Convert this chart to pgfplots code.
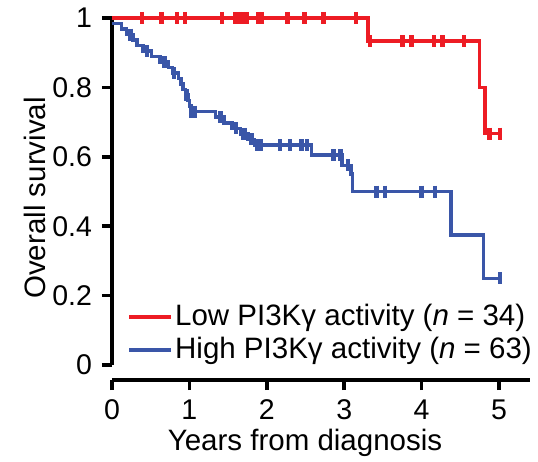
\documentclass[border=0pt]{standalone}
\usepackage{fontspec}
\setmainfont{Liberation Sans}
\usepackage{pgfplots}
\pgfplotsset{compat=1.18}
\definecolor{kmred}{RGB}{237,28,36}
\definecolor{kmblue}{RGB}{58,86,168}
\begin{document}
\fontsize{29.5bp}{34bp}\selectfont
\begin{tikzpicture}
\path[use as bounding box] (-112bp,-82bp) rectangle (426bp,380bp);
\begin{axis}[
  scale only axis, width=418bp, height=362bp,
  xmin=0, xmax=5.4, ymin=-0.0432, ymax=1,
  axis x line*=bottom, axis y line*=left,
  axis line style={line width=3.5bp, -, black},
  y axis line style={shorten <=15bp},
  xtick={0,1,2,3,4,5}, ytick={0,0.2,0.4,0.6,0.8,1},
  tick align=outside, major tick length=10bp,
  tick style={line width=3.5bp, black},
  /pgf/number format/assume math mode=true,
  tick label style={font=\fontsize{28.5bp}{33bp}\selectfont},
  clip=false,
  every axis y label/.style={at={(rel axis cs:0,0.503)}, xshift=-77bp, rotate=90, anchor=center, font=\fontsize{29.5bp}{34bp}\selectfont},
  every axis x label/.style={at={(rel axis cs:0.4617,0)}, yshift=-63bp, anchor=center, font=\fontsize{29.5bp}{34bp}\selectfont},
  xlabel={Years from diagnosis}, ylabel={Overall survival},
  legend style={draw=none, fill=none, at={(axis cs:0.2,0)}, anchor=south west, inner sep=0pt, font=\fontsize{29.5bp}{34bp}\selectfont, row sep=3bp},
  legend cell align=left, reverse legend,
  legend image code/.code={\draw[#1, line width=3.5bp] (0bp,0bp) -- (32bp,0bp); \path (0bp,0bp) -- (42bp,0bp);},
]
% High PI3Kgamma (blue)
\addplot[kmblue, line width=3.5bp, const plot, mark=none] coordinates {
(0,0.984) (0.12,0.968) (0.19,0.952) (0.27,0.937) (0.32,0.921) (0.40,0.905)
(0.51,0.889) (0.62,0.873) (0.73,0.857) (0.78,0.841) (0.86,0.825) (0.89,0.810)
(0.92,0.794) (0.95,0.778) (0.98,0.762) (1.00,0.746) (1.02,0.730)
(1.34,0.714) (1.45,0.698) (1.55,0.682) (1.66,0.666) (1.76,0.650) (1.84,0.634)
(2.58,0.605) (2.97,0.575) (3.09,0.550) (3.11,0.500) (4.38,0.375) (4.80,0.250) (5.04,0.250)
};
\addlegendentry{High PI3Kγ activity (\textit{n} = 63)}
\addplot[kmred, line width=3.5bp, const plot, mark=none] coordinates {
(0,1) (3.31,0.933) (4.75,0.800) (4.82,0.667) (5.04,0.667)
};
\addlegendentry{Low PI3Kγ activity (\textit{n} = 34)}
% censor marks
\addplot[forget plot, only marks, mark=|, mark size=6bp, kmblue, mark options={line width=4.5bp}] coordinates {
(0.24,0.952) (0.45,0.905) (0.68,0.873) (0.80,0.841) (0.96,0.778) (1.03,0.730) (1.07,0.730)
(1.40,0.714) (1.60,0.682) (1.70,0.666) (1.72,0.666) (1.80,0.650) (1.88,0.634) (1.92,0.634)
(2.17,0.634) (2.30,0.634) (2.45,0.634) (2.52,0.634)
(2.86,0.605) (2.95,0.605) (3.05,0.575)
(3.42,0.500) (3.53,0.500) (4.00,0.500) (4.17,0.500) (5.01,0.250)
};
\addplot[forget plot, only marks, mark=|, mark size=6bp, kmred, mark options={line width=4.5bp}] coordinates {
(0.39,1) (0.64,1) (0.84,1) (0.94,1) (1.42,1) (1.59,1) (1.62,1) (1.65,1) (1.69,1)
(1.72,1) (1.74,1) (1.89,1) (1.93,1) (2.27,1) (2.49,1) (2.73,1) (3.15,1)
(3.33,0.933) (3.75,0.933) (3.87,0.933) (4.16,0.933) (4.27,0.933) (4.55,0.933)
(4.88,0.667) (5.01,0.667)
};
\end{axis}
\end{tikzpicture}
\end{document}
